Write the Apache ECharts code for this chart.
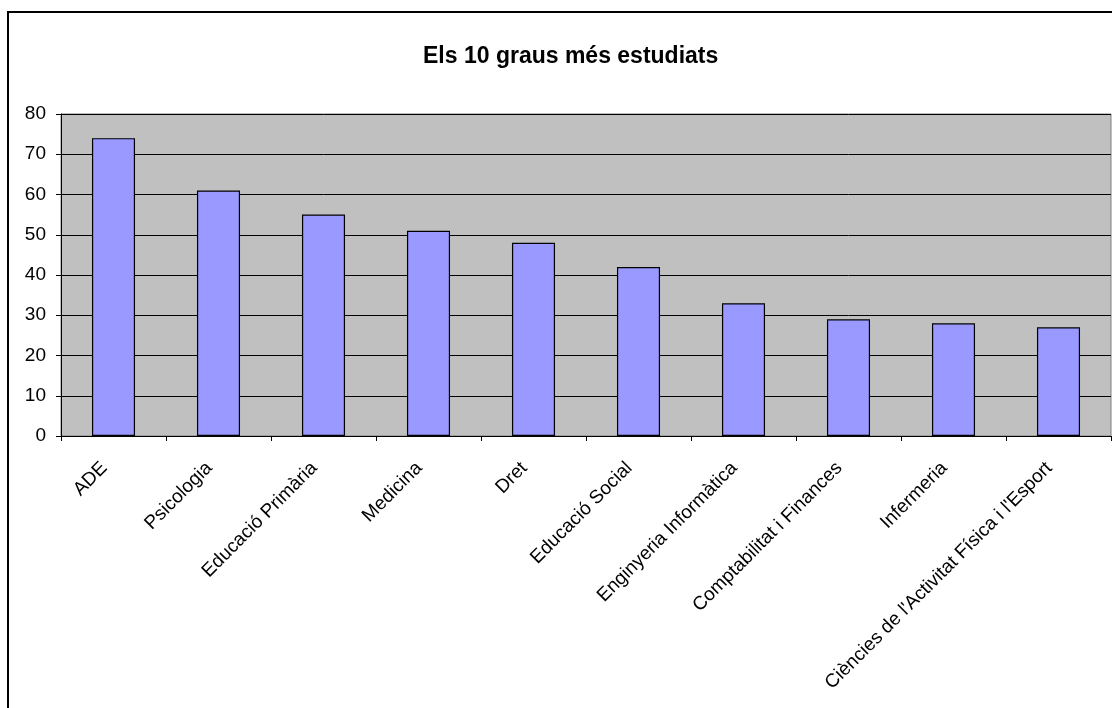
<!DOCTYPE html>
<html><head><meta charset="utf-8">
<script src="https://cdn.jsdelivr.net/npm/echarts@6/dist/echarts.min.js"></script>
<style>html,body{margin:0;padding:0;background:#fff}#c{width:1112px;height:708px}</style>
</head><body><div id="c"></div>
<script>
const titleText = "Els 10 graus més estudiats";
const categories = ["ADE","Psicologia","Educació Primària","Medicina","Dret","Educació Social","Enginyeria Informàtica","Comptabilitat i Finances","Infermeria","Ciències de l'Activitat Física i l'Esport"];
const values = [74,61,55,51,48,42,33,29,28,27];
const yTicks = [0,10,20,30,40,50,60,70,80];

const chart = echarts.init(document.getElementById('c'), null, {renderer:'canvas'});
chart.setOption({
  animation:false,
  backgroundColor:'#ffffff',
  graphic:[{type:'rect',shape:{x:8,y:12,width:1120,height:720},style:{fill:'none',stroke:'#000',lineWidth:2},z:-1}],
  title:{text:titleText,left:418,top:40,textStyle:{fontFamily:'Liberation Sans, Arial, sans-serif',fontWeight:'bold',fontSize:23,color:'#000'}},
  grid:{left:61,top:114,right:1,bottom:272,show:true,backgroundColor:'#c0c0c0',borderColor:'#808080',borderWidth:1},
  xAxis:{type:'category',data:categories,
    axisLine:{lineStyle:{color:'#000',width:1}},
    axisTick:{show:true,alignWithLabel:false,length:5,lineStyle:{color:'#000'}},
    axisLabel:{rotate:45,interval:0,margin:20,padding:[0,13,0,0],color:'#000',fontFamily:'Liberation Sans, Arial, sans-serif',fontSize:19}
  },
  yAxis:{type:'value',min:yTicks[0],max:yTicks[yTicks.length-1],interval:10,
    axisLine:{show:true,lineStyle:{color:'#000',width:1}},
    axisTick:{show:true,length:5,lineStyle:{color:'#000'}},
    splitLine:{lineStyle:{color:'#000',width:1}},
    axisLabel:{margin:15,color:'#000',fontFamily:'Liberation Sans, Arial, sans-serif',fontSize:19}
  },
  series:[{type:'bar',data:values,barWidth:'41%',
    itemStyle:{color:'#9999ff',borderColor:'#000',borderWidth:1.2}}]
});
</script></body></html>
